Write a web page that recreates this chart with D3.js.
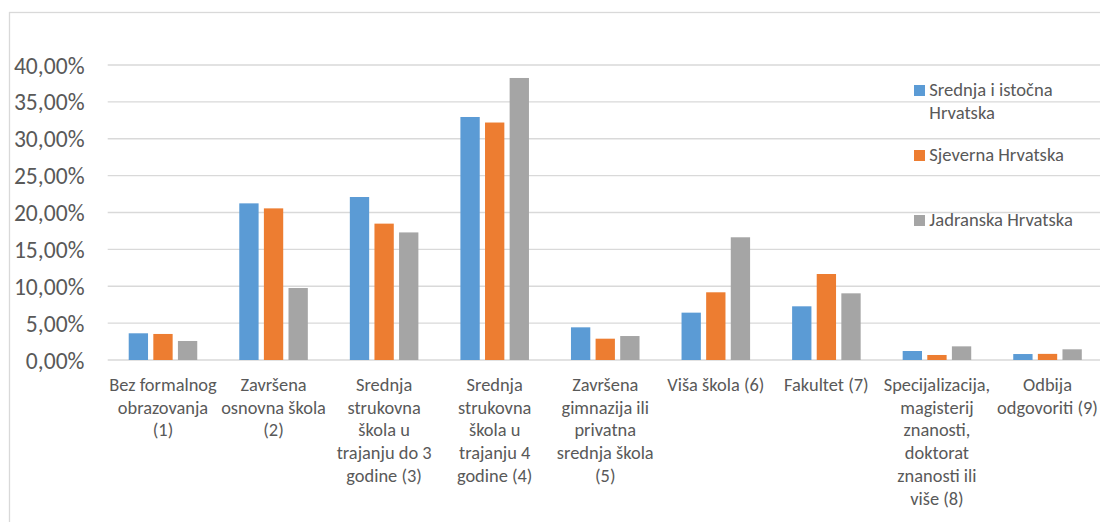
<!DOCTYPE html>
<html>
<head>
<meta charset="utf-8">
<script src="https://cdn.jsdelivr.net/npm/d3@7"></script>
<style>
  html, body { margin: 0; padding: 0; background: #fff; }
  svg { display: block; font-family: Carlito, Lato, "Liberation Sans", sans-serif; }
</style>
</head>
<body>
<svg id="chart" width="1100" height="522"></svg>
<script>
// ---- data ----
const categoryLabels = [
  ["Bez formalnog", "obrazovanja", "(1)"],
  ["Završena", "osnovna škola", "(2)"],
  ["Srednja", "strukovna", "škola u", "trajanju do 3", "godine (3)"],
  ["Srednja", "strukovna", "škola u", "trajanju 4", "godine (4)"],
  ["Završena", "gimnazija ili", "privatna", "srednja škola", "(5)"],
  ["Viša škola (6)"],
  ["Fakultet (7)"],
  ["Specijalizacija,", "magisterij", "znanosti,", "doktorat", "znanosti ili", "više (8)"],
  ["Odbija", "odgovoriti (9)"]
];
const seriesNames = ["Srednja i istočna Hrvatska", "Sjeverna Hrvatska", "Jadranska Hrvatska"];
const legendLines = [["Srednja i istočna", "Hrvatska"], ["Sjeverna Hrvatska"], ["Jadranska Hrvatska"]];
const srednjaIstocna = [3.62, 21.24, 22.10, 32.95, 4.43, 6.42, 7.28, 1.22, 0.81];
const sjeverna       = [3.53, 20.56, 18.49, 32.20, 2.89, 9.18, 11.66, 0.68, 0.83];
const jadranska      = [2.58, 9.76, 17.30, 38.24, 3.25, 16.64, 9.04, 1.85, 1.45];
const yTicks = [0, 5, 10, 15, 20, 25, 30, 35, 40];
const colors = ["#5B9BD5", "#ED7D31", "#A5A5A5"];

// ---- drawing ----
const svg = d3.select("#chart");
const seriesValues = [srednjaIstocna, sjeverna, jadranska];
const idx = d3.range(categoryLabels.length);

const x0 = d3.scaleBand().domain(idx).range([107.7, 1102.8]).padding(0);
const x1 = d3.scaleBand().domain(d3.range(3))
  .range([x0.bandwidth() * 0.19, x0.bandwidth() * 0.81])
  .paddingInner(0.215).paddingOuter(0);
const y = d3.scaleLinear().domain([0, 40]).range([360, 65]);

// chart border
svg.append("rect").attr("x", 9.5).attr("y", 12.5).attr("width", 1200).attr("height", 600)
  .attr("fill", "none").attr("stroke", "#D9D9D9").attr("stroke-width", 1.3);

// gridlines
svg.append("g").selectAll("line").data(yTicks).join("line")
  .attr("x1", 107.7).attr("x2", 1102.8)
  .attr("y1", d => y(d)).attr("y2", d => y(d))
  .attr("stroke", "#D9D9D9").attr("stroke-width", 1.3);

// y axis labels
const yAxis = d3.axisLeft(y).tickValues(yTicks).tickSize(0).tickPadding(0)
  .tickFormat(d => d3.format(".2f")(d).replace(".", ",") + "%");
const yg = svg.append("g").attr("transform", "translate(84.5,0)").call(yAxis);
yg.select(".domain").remove();
yg.selectAll("text").attr("fill", "#595959").style("font-size", "23.6px")
  .style("font-family", "Carlito, Lato, sans-serif")
  .attr("dy", null).attr("dominant-baseline", "central");

// bars
const groups = svg.append("g").selectAll("g").data(idx).join("g")
  .attr("transform", i => `translate(${x0(i)},0)`);
groups.selectAll("rect").data(i => seriesValues.map((s, k) => ({k, v: s[i]}))).join("rect")
  .attr("x", d => x1(d.k)).attr("width", x1.bandwidth())
  .attr("y", d => y(d.v)).attr("height", d => y(0) - y(d.v))
  .attr("fill", d => colors[d.k]);

// x category labels
const xg = svg.append("g").selectAll("text").data(idx).join("text")
  .attr("x", i => x0(i) + x0.bandwidth() / 2).attr("y", 391)
  .attr("text-anchor", "middle").attr("fill", "#595959").style("font-size", "18.4px");
xg.selectAll("tspan").data(i => categoryLabels[i].map((t, j) => ({t, j, i}))).join("tspan")
  .attr("x", d => x0(d.i) + x0.bandwidth() / 2)
  .attr("dy", d => d.j === 0 ? 0 : 22.7)
  .text(d => d.t);

// legend
const legendY = [96, 161, 226];
const lg = svg.append("g").selectAll("g").data(d3.range(3)).join("g");
lg.append("rect").attr("x", 914).attr("y", k => legendY[k] - 11).attr("width", 11).attr("height", 11)
  .attr("fill", k => colors[k]);
const lt = lg.append("text").attr("x", 929.3).attr("y", k => legendY[k])
  .attr("fill", "#595959").style("font-size", "18.6px");
lt.selectAll("tspan").data(k => legendLines[k].map((t, j) => ({t, j}))).join("tspan")
  .attr("x", 929.3).attr("dy", d => d.j === 0 ? 0 : 23).text(d => d.t);
</script>
</body>
</html>
